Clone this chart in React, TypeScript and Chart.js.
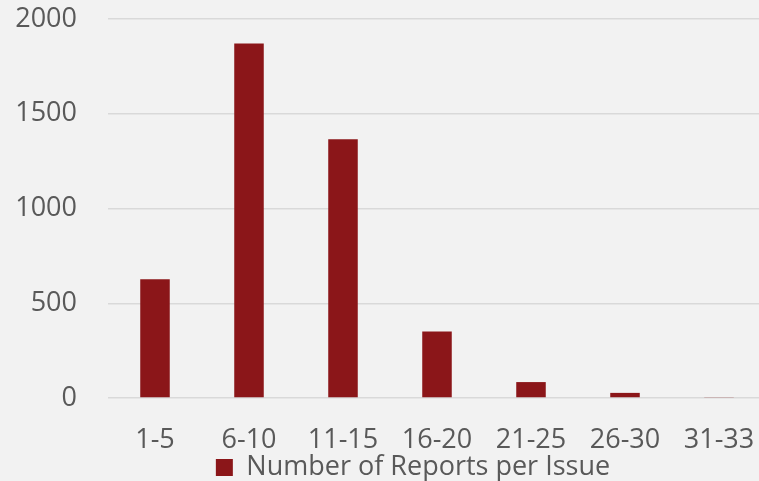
import React, { useEffect, useRef } from "react";
import { Chart, registerables } from "chart.js";

Chart.register(...registerables);

const categories = ["1-5", "6-10", "11-15", "16-20", "21-25", "26-30", "31-33"];
const reportCounts = [626, 1871, 1365, 351, 84, 27, 3];
const seriesLabel = "Number of Reports per Issue";
const yTicks = [0, 500, 1000, 1500, 2000];

const FONT = "'Open Sans', sans-serif";
const TEXT = "#595959";
const BAR = "#8B1619";

export default function App() {
  const ref = useRef<HTMLCanvasElement | null>(null);

  useEffect(() => {
    if (!ref.current) return;
    const chart = new Chart(ref.current, {
      type: "bar",
      data: {
        labels: categories,
        datasets: [
          {
            label: seriesLabel,
            data: reportCounts,
            backgroundColor: BAR,
            borderWidth: 0,
            categoryPercentage: 1,
            barPercentage: 0.314,
          },
        ],
      },
      options: {
        animation: false,
        responsive: false,
        maintainAspectRatio: false,
        layout: { padding: { top: 19, left: 60, right: 60, bottom: -10 } },
        plugins: {
          tooltip: { enabled: false },
          legend: {
            position: "bottom",
            labels: {
              boxWidth: 17,
              boxHeight: 17,
              padding: 3,
              color: TEXT,
              font: { family: FONT, size: 27 },
            },
          },
        },
        scales: {
          x: {
            grid: { display: false, drawTicks: false },
            border: { display: false },
            ticks: {
              color: TEXT,
              padding: 26,
              maxRotation: 0,
              autoSkip: false,
              font: { family: FONT, size: 27 },
            },
            afterFit: (s: any) => {
              s.height = 53;
              s.paddingLeft = 0;
              s.paddingRight = 0;
            },
          },
          y: {
            min: 0,
            max: 2000,
            afterBuildTicks: (s: any) => {
              s.ticks = yTicks.map((v) => ({ value: v }));
            },
            grid: { color: "#d9d9d9", lineWidth: 1.5, drawTicks: false },
            border: { display: false },
            ticks: {
              color: TEXT,
              padding: 31,
              font: { family: FONT, size: 27 },
              callback: (v: any) => String(v),
            },
            afterFit: (s: any) => {
              s.width = 48;
              s.paddingTop = 0;
              s.paddingBottom = 0;
            },
          },
        },
      },
      plugins: [
        {
          id: "yLabelRoom",
          afterLayout(c: any) {
            // let the y tick labels use the room to the left of the axis box
            c.scales.y.left = 0;
          },
        },
      ],
    });
    return () => chart.destroy();
  }, []);

  return (
    <div
      style={{
        position: "fixed",
        left: 0,
        top: 0,
        width: 759,
        height: 481,
        overflow: "hidden",
        background: "#f2f2f2",
      }}
    >
      <canvas ref={ref} width={826} height={481} style={{ display: "block" }} />
    </div>
  );
}
